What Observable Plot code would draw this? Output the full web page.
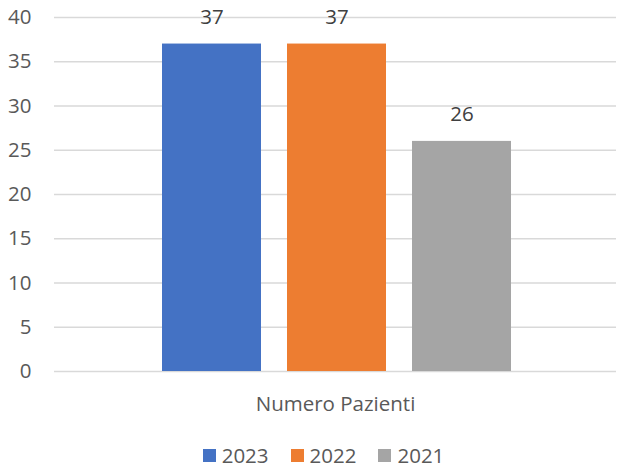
<!DOCTYPE html>
<html>
<head>
<meta charset="utf-8">
<script src="https://cdn.jsdelivr.net/npm/d3@7"></script>
<script src="https://cdn.jsdelivr.net/npm/@observablehq/plot@0.6"></script>
<style>
  body { margin: 0; background: #fff; font-family: "Open Sans", sans-serif; }
  #legend { display: flex; justify-content: center; align-items: center; gap: 22px; padding-top: 11px; font-size: 20.5px; color: #595959; padding-left: 30px; }
  .item { display: flex; align-items: center; gap: 6px; }
  .sw { width: 13px; height: 13px; display: inline-block; }
</style>
</head>
<body>
<div id="chart"></div>
<div id="legend"></div>
<script>
const category = "Numero Pazienti";
const years = ["2023", "2022", "2021"];
const values = [37, 37, 26];
const colors = ["#4472C4", "#ED7D31", "#A5A5A5"];
const yTicks = [0, 5, 10, 15, 20, 25, 30, 35, 40];

const data = years.map((y, i) => ({year: y, value: values[i], category}));

const chart = Plot.plot({
  width: 617,
  height: 430,
  marginLeft: 54,
  marginRight: 1,
  marginTop: 17,
  marginBottom: 59,
  style: {fontFamily: "'Open Sans', sans-serif", fontSize: "20.5px", color: "#595959", background: "#fff"},
  x: {domain: years, range: [149, 524], paddingInner: 0.208, paddingOuter: 0.104, axis: null},
  y: {domain: [0, 40], axis: null},
  color: {domain: years, range: colors},
  marks: [
    Plot.ruleY(yTicks, {stroke: "#d9d9d9", strokeWidth: 1.3}),
    Plot.barY(data, {x: "year", y: "value", fill: "year"}),
    Plot.axisY({ticks: yTicks, tickSize: 0, tickPadding: 23, label: null, fill: "#595959", fontSize: 20.5}),
    Plot.axisX({ticks: [], label: category, labelAnchor: "center", labelArrow: "none", labelOffset: 39, fill: "#595959", fontSize: 20.5}),
    Plot.text(data, {x: "year", y: "value", text: d => String(d.value), dy: -27, fill: "#404040", fontSize: 20.5})
  ]
});
document.getElementById("chart").appendChild(chart);

const legend = document.getElementById("legend");
years.forEach((y, i) => {
  const item = document.createElement("div");
  item.className = "item";
  const sw = document.createElement("span");
  sw.className = "sw";
  sw.style.background = colors[i];
  const t = document.createElement("span");
  t.textContent = y;
  item.appendChild(sw);
  item.appendChild(t);
  legend.appendChild(item);
});
</script>
</body>
</html>
